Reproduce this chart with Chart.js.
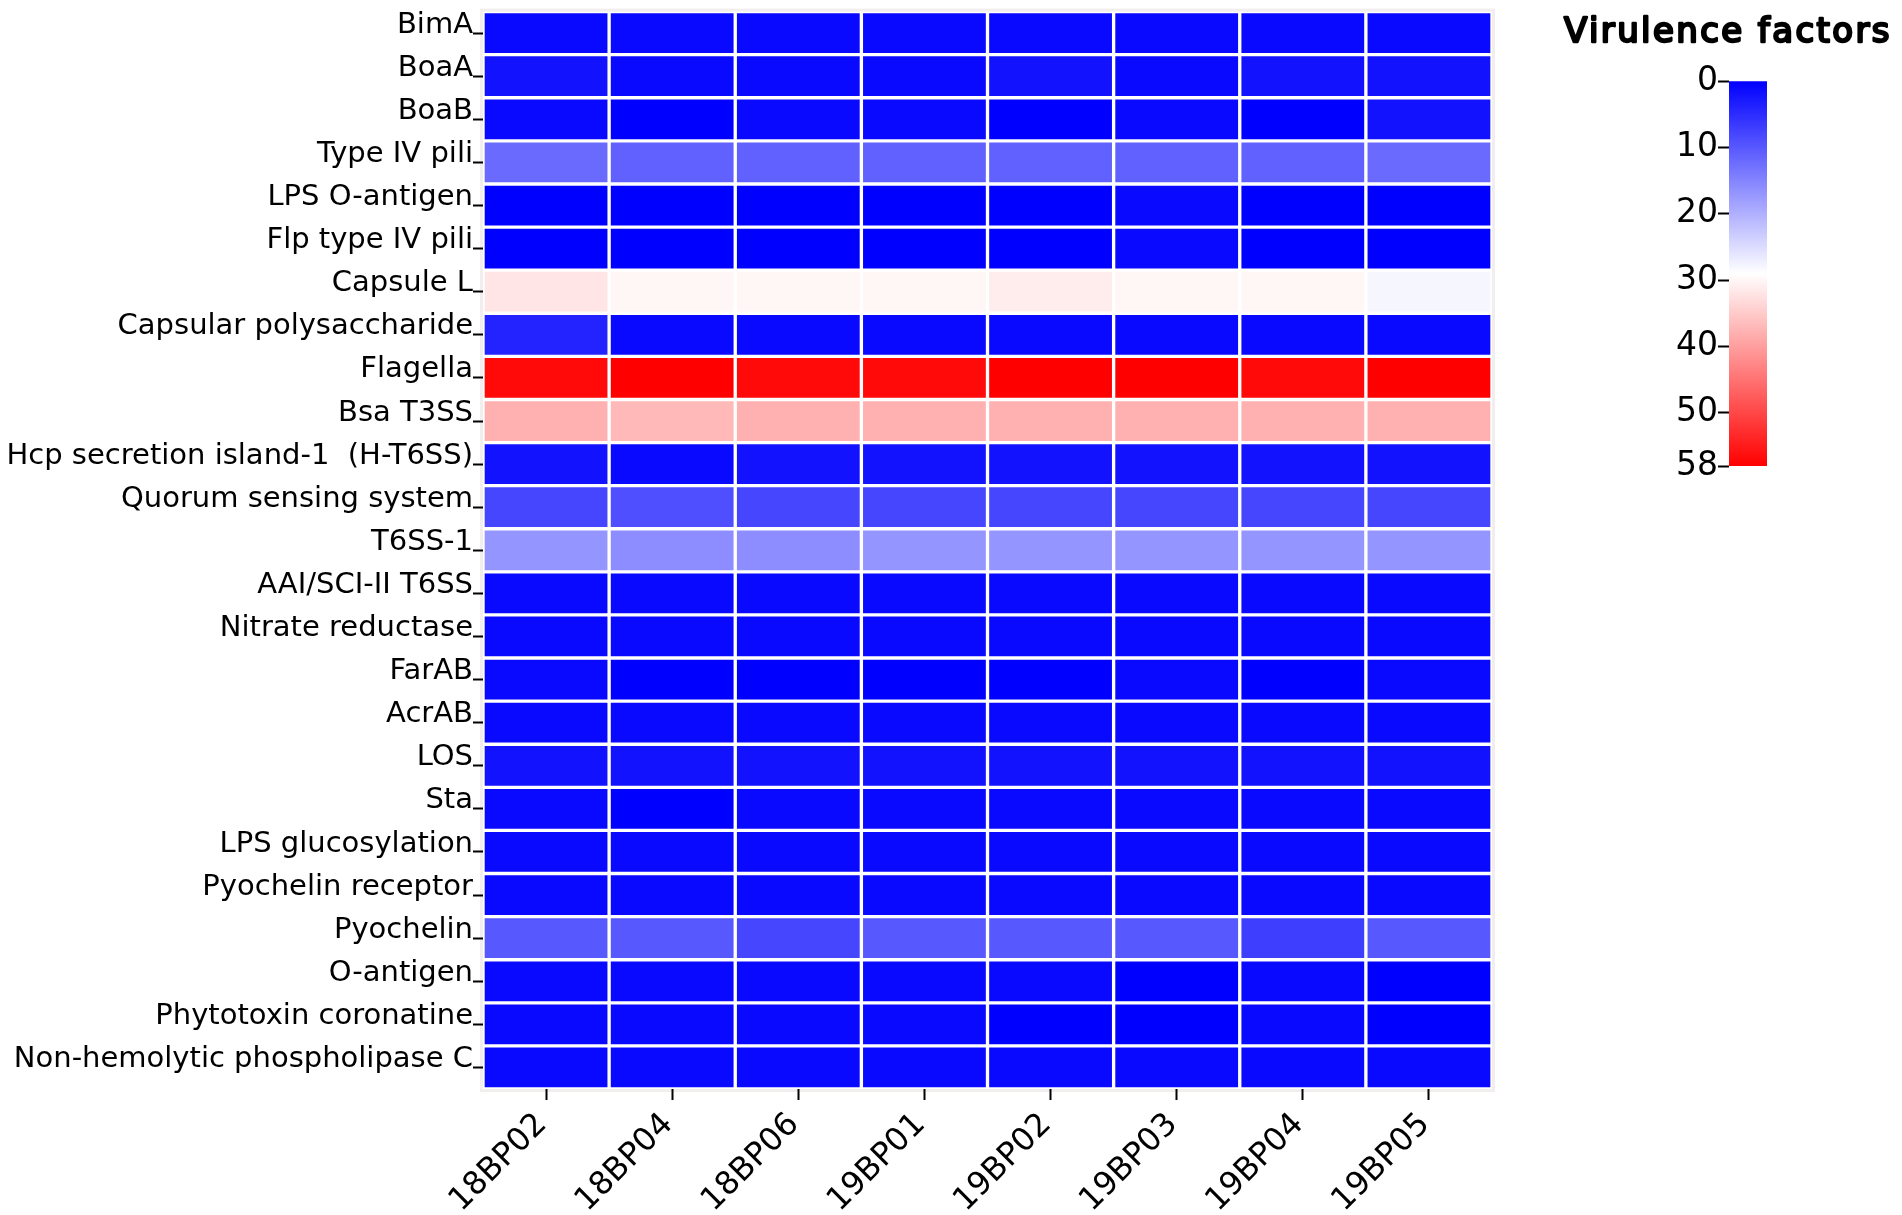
<!DOCTYPE html>
<html>
<head>
<meta charset="utf-8">
<script src="https://cdn.jsdelivr.net/npm/chart.js@4.4.1/dist/chart.umd.min.js"></script>
<style>
  body { margin: 0; background: #fff; }
  #heat { position: absolute; left: 0; top: 0; }
  #bar { position: absolute; left: 1550px; top: 0; }
</style>
</head>
<body>
<canvas id="heat" width="1500" height="1215"></canvas>
<canvas id="bar" width="352" height="500"></canvas>
<script>
const factors = [
  'BimA', 'BoaA', 'BoaB', 'Type IV pili', 'LPS O-antigen', 'Flp type IV pili',
  'Capsule L', 'Capsular polysaccharide', 'Flagella', 'Bsa T3SS',
  'Hcp secretion island-1  (H-T6SS)', 'Quorum sensing system', 'T6SS-1',
  'AAI/SCI-II T6SS', 'Nitrate reductase', 'FarAB', 'AcrAB', 'LOS', 'Sta',
  'LPS glucosylation', 'Pyochelin receptor', 'Pyochelin', 'O-antigen',
  'Phytotoxin coronatine', 'Non-hemolytic phospholipase C'
];
const samples = ['18BP02', '18BP04', '18BP06', '19BP01', '19BP02', '19BP03', '19BP04', '19BP05'];

// gene counts per sample, in the order of factors
const s18BP02 = [1, 2, 1, 12, 0, 0, 32, 4, 57, 38, 2, 8, 17, 1, 1, 1, 1, 2, 1, 1, 1, 10, 1, 1, 1];
const s18BP04 = [1, 1, 0, 11, 0, 0, 30, 1, 58, 37, 1, 9, 16, 1, 1, 0, 1, 2, 0, 1, 1, 10, 1, 1, 1];
const s18BP06 = [1, 1, 1, 11, 0, 0, 30, 1, 57, 38, 2, 8, 16, 1, 1, 0, 1, 2, 1, 1, 1, 8, 1, 1, 1];
const s19BP01 = [1, 1, 1, 11, 0, 0, 30, 1, 57, 38, 2, 8, 17, 1, 1, 0, 1, 2, 1, 1, 1, 10, 1, 1, 1];
const s19BP02 = [1, 2, 0, 11, 0, 0, 31, 1, 58, 38, 2, 8, 17, 1, 1, 0, 1, 2, 1, 1, 1, 10, 1, 0, 1];
const s19BP03 = [1, 1, 1, 11, 1, 1, 30, 1, 58, 38, 2, 8, 17, 1, 1, 1, 1, 2, 1, 1, 1, 10, 0, 0, 1];
const s19BP04 = [1, 2, 0, 11, 0, 0, 30, 1, 57, 38, 2, 8, 17, 1, 1, 0, 1, 2, 1, 1, 1, 7, 1, 1, 1];
const s19BP05 = [1, 2, 2, 12, 0, 0, 28, 1, 58, 38, 2, 8, 17, 1, 1, 1, 1, 2, 1, 1, 1, 10, 0, 0, 1];
const columns = [s18BP02, s18BP04, s18BP06, s19BP01, s19BP02, s19BP03, s19BP04, s19BP05];

const scaleMin = 0;
const scaleMid = 29;
const scaleMax = 58;
const scaleTicks = [0, 10, 20, 30, 40, 50, 58];
const scaleTitle = 'Virulence factors';

Chart.defaults.font.family = "'DejaVu Sans'";
Chart.defaults.color = '#000';

// blue - white - red
function colorFor(v) {
  if (v <= scaleMid) {
    const t = Math.round(255 * (v - scaleMin) / (scaleMid - scaleMin));
    return `rgb(${t},${t},255)`;
  }
  const t = Math.round(255 * (scaleMax - v) / (scaleMax - scaleMid));
  return `rgb(255,${t},${t})`;
}

// pale frame behind the cells
const frame = {
  id: 'frame',
  beforeDraw(chart) {
    const a = chart.chartArea;
    const c = chart.ctx;
    c.save();
    c.fillStyle = '#f3eeee';
    c.fillRect(a.left - 3, a.top - 3, a.right - a.left + 6, a.bottom - a.top + 6);
    c.restore();
  }
};

// bold title over the colour bar (no bold DejaVu face installed, so stroke it)
const barTitle = {
  id: 'barTitle',
  afterDraw(chart) {
    const c = chart.ctx;
    c.save();
    c.font = "34px 'DejaVu Sans'";
    c.letterSpacing = '2.4px';
    c.textAlign = 'center';
    c.textBaseline = 'alphabetic';
    c.fillStyle = '#000';
    c.strokeStyle = '#000';
    c.lineWidth = 2.4;
    c.lineJoin = 'round';
    c.fillText(scaleTitle, 178, 42);
    c.strokeText(scaleTitle, 178, 42);
    c.restore();
  }
};

new Chart(document.getElementById('heat'), {
  type: 'bar',
  data: {
    labels: factors,
    datasets: samples.map((s, i) => ({
      label: s,
      data: columns[i].map(() => 1),
      stack: 'cells',
      backgroundColor: ctx => colorFor(columns[ctx.datasetIndex][ctx.dataIndex]),
      borderColor: '#ffffff',
      borderWidth: 2,
      borderSkipped: false,
      barPercentage: 1,
      categoryPercentage: 1
    }))
  },
  options: {
    indexAxis: 'y',
    responsive: false,
    animation: false,
    devicePixelRatio: 1,
    layout: { padding: { top: 10, right: 8, bottom: 0, left: 0 } },
    plugins: { legend: { display: false }, tooltip: { enabled: false } },
    scales: {
      x: {
        type: 'linear',
        stacked: true,
        min: 0,
        max: samples.length,
        afterBuildTicks: s => { s.ticks = samples.map((_, i) => ({ value: i + 0.5 })); },
        afterFit: s => { s.height = 126; },
        ticks: {
          callback: (v, i) => samples[i],
          minRotation: 45,
          maxRotation: 45,
          autoSkip: false,
          padding: 6,
          labelOffset: -4,
          font: { size: 32 }
        },
        grid: { drawOnChartArea: false, tickLength: 11, tickColor: '#000', tickWidth: 2 },
        border: { display: false }
      },
      y: {
        stacked: true,
        afterFit: s => { s.width = 483; },
        ticks: { autoSkip: false, padding: 0, labelOffset: -8, font: { size: 29, lineHeight: 0.8 } },
        grid: { offset: false, drawOnChartArea: false, tickLength: 10, tickColor: '#000', tickWidth: 2 },
        border: { display: false }
      }
    }
  },
  plugins: [frame]
});

new Chart(document.getElementById('bar'), {
  type: 'bar',
  data: {
    labels: [scaleTitle],
    datasets: [{
      data: [[scaleMin, scaleMax]],
      backgroundColor: ctx => {
        const chart = ctx.chart;
        const y = chart.scales.y;
        if (!chart.chartArea || !y) return colorFor(scaleMin);
        const g = chart.ctx.createLinearGradient(0, y.getPixelForValue(scaleMin), 0, y.getPixelForValue(scaleMax));
        g.addColorStop(0, colorFor(scaleMin));
        g.addColorStop((scaleMid - scaleMin) / (scaleMax - scaleMin), colorFor(scaleMid));
        g.addColorStop(1, colorFor(scaleMax));
        return g;
      },
      borderWidth: 0,
      barPercentage: 1,
      categoryPercentage: 1
    }]
  },
  options: {
    responsive: false,
    animation: false,
    devicePixelRatio: 1,
    layout: { padding: { top: 81, right: 135, bottom: 34, left: 0 } },
    plugins: { legend: { display: false }, tooltip: { enabled: false } },
    scales: {
      x: { display: false },
      y: {
        min: scaleMin,
        max: scaleMax,
        reverse: true,
        afterBuildTicks: s => { s.ticks = scaleTicks.map(v => ({ value: v })); },
        afterFit: s => { s.width = 179; },
        ticks: { padding: 0, font: { size: 33 } },
        grid: { drawOnChartArea: false, tickLength: 11, tickColor: '#000', tickWidth: 2 },
        border: { display: false }
      }
    }
  },
  plugins: [barTitle]
});
</script>
</body>
</html>
